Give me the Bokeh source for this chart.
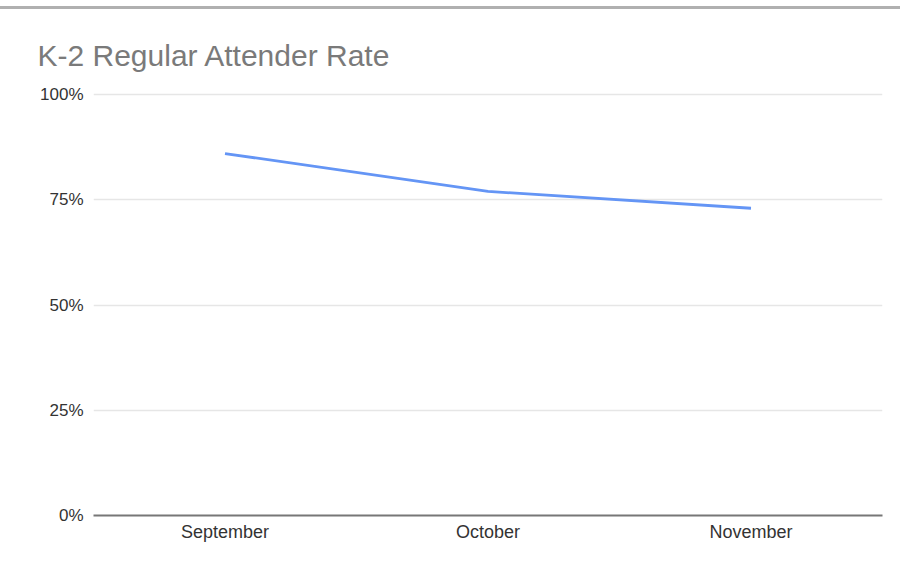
from bokeh.plotting import figure
from bokeh.models import Range1d, FixedTicker, Div
from bokeh.layouts import column
from bokeh.embed import file_html
from bokeh.resources import INLINE

months = ["September", "October", "November"]
rates = [86, 77, 73]
y_ticks = [0, 25, 50, 75, 100]
y_tick_labels = {0: "0%", 25: "25%", 50: "50%", 75: "75%", 100: "100%"}
title_text = "K-2 Regular Attender Rate"

TOP = 9
W, H = 900, 566 - TOP
p = figure(width=W, height=H, x_range=months, y_range=Range1d(0, 100.5),
           output_backend="svg", toolbar_location=None, title=title_text,
           min_border_left=93, min_border_right=18, min_border_top=92 - TOP, min_border_bottom=51)
p.outline_line_color = None
p.background_fill_color = "white"
p.border_fill_color = "white"

p.title.text_font = "Liberation Sans"
p.title.text_font_size = "30px"
p.title.text_font_style = "normal"
p.title.text_color = "#7a7a7a"
p.title.align = "left"
p.title.offset = -56
p.title.standoff = 41

p.line(x=months, y=rates, line_color="#6495f5", line_width=2.8)

p.yaxis.ticker = FixedTicker(ticks=y_ticks)
p.yaxis.major_label_overrides = y_tick_labels
p.yaxis.axis_line_color = None
p.yaxis.major_tick_line_color = None
p.yaxis.minor_tick_line_color = None
p.yaxis.major_label_text_font = "Liberation Sans"
p.yaxis.major_label_text_font_size = "17px"
p.yaxis.major_label_text_color = "#333333"
p.yaxis.major_label_standoff = 4

p.xaxis.axis_line_color = "#777777"
p.xaxis.axis_line_width = 2
p.xaxis.major_tick_line_color = None
p.xaxis.minor_tick_line_color = None
p.xaxis.major_label_text_font = "Liberation Sans"
p.xaxis.major_label_text_font_size = "18px"
p.xaxis.major_label_text_color = "#333333"
p.xaxis.major_label_standoff = 0

p.xgrid.grid_line_color = None
p.ygrid.grid_line_color = "#e6e6e6"
p.ygrid.grid_line_width = 1.5

top_rule = Div(text="", width=W, height=3, margin=(6, 0, 0, 0),
               styles={"background-color": "#b0b0b0"})

layout = column(top_rule, p, spacing=0)
open("out.html", "w").write(file_html(layout, INLINE))
